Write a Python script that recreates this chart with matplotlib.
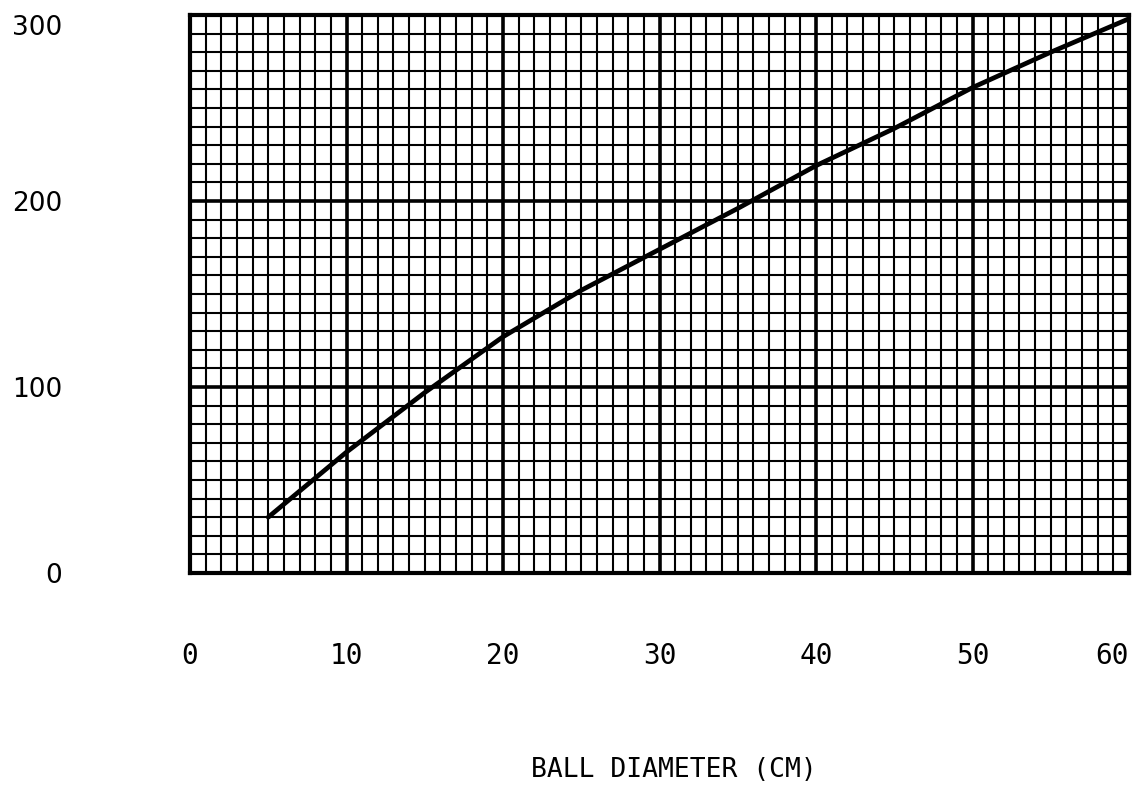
import numpy as np
import matplotlib
matplotlib.use("Agg")
import matplotlib.pyplot as plt
from matplotlib.ticker import MultipleLocator

# ----------------------
# DATA
# ----------------------
diameter = [5, 10, 15, 20, 25, 30, 35, 40, 45, 50, 55, 60]
value = [30, 65, 97, 127, 152, 174, 196, 219, 239, 261, 280, 298]

x_ticks = [0, 10, 20, 30, 40, 50, 60]
y_ticks = [0, 100, 200, 300]
x_label = "BALL DIAMETER (CM)"

# ----------------------
# FIGURE
# ----------------------
fig = plt.figure(figsize=(11.35, 7.85), dpi=100)
ax = fig.add_axes([190 / 1135, 1 - 573 / 785, (1129 - 190) / 1135, (573 - 15) / 785])

ax.set_xlim(0, 60)
ax.set_ylim(0, 300)

# graph-paper grid
ax.xaxis.set_major_locator(MultipleLocator(10))
ax.xaxis.set_minor_locator(MultipleLocator(1))
ax.yaxis.set_major_locator(MultipleLocator(100))
ax.yaxis.set_minor_locator(MultipleLocator(10))
ax.grid(which="minor", color="black", linewidth=1.5)
ax.grid(which="major", color="black", linewidth=2.6)
ax.set_axisbelow(True)
for s in ax.spines.values():
    s.set_linewidth(3)

ax.plot(diameter, value, color="black", linewidth=3.4, solid_capstyle="round")

# tick labels
ax.set_xticks(x_ticks)
ax.set_yticks(y_ticks)
ax.set_xticklabels([str(t) for t in x_ticks], fontsize=20, family="DejaVu Sans Mono")
ax.set_yticklabels([str(t) for t in y_ticks], fontsize=19, family="DejaVu Sans")
ax.tick_params(which="both", length=0)
ax.tick_params(axis="x", pad=50)
ax.tick_params(axis="y", pad=92)
ax.get_xticklabels()[-1].set_ha("right")
ax.get_yticklabels()[-1].set_va("top")

fig.text(674 / 1135, 1 - 770 / 785, x_label, fontsize=19, family="DejaVu Sans Mono",
         ha="center", va="center")

fig.savefig("out.png", dpi=100, facecolor="white")
